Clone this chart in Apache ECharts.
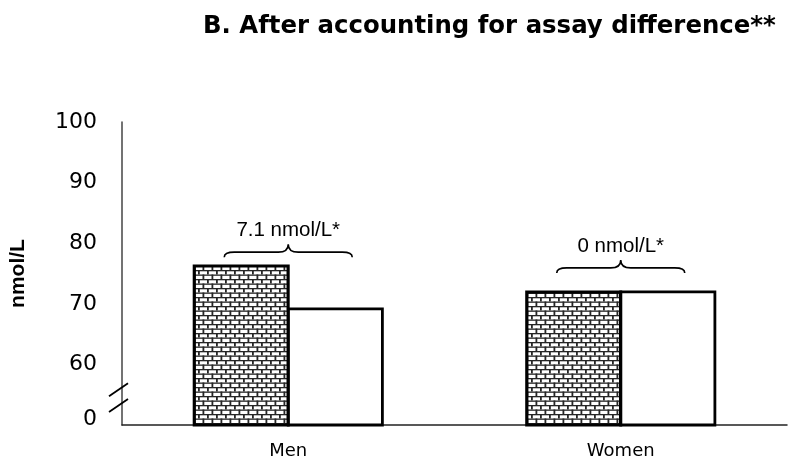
<!DOCTYPE html>
<html>
<head>
<meta charset="utf-8">
<script src="https://cdn.jsdelivr.net/npm/echarts@6/dist/echarts.min.js"></script>
<style>html,body{margin:0;padding:0;background:#fff;}#c{width:800px;height:466px;}</style>
</head>
<body>
<div id="c"></div>
<script>
// ---- data ----
var categories = ['Men', 'Women'];
var seriesBefore = [76.5, 72.2];   // patterned (brick) bars
var seriesAfter = [69.4, 72.2];    // white bars
var yTicks = [50, 60, 70, 80, 90, 100];
var yTickLabels = ['0', '60', '70', '80', '90', '100'];
var diffLabels = ['7.1 nmol/L*', '0 nmol/L*'];
var braceLevels = [77.7, 75.1];
var titleText = 'B. After accounting for assay difference**';
var yName = 'nmol/L';

// ---- brick pattern ----
var pc = document.createElement('canvas');
pc.width = 9; pc.height = 9;
var g = pc.getContext('2d');
g.fillStyle = '#ffffff'; g.fillRect(0, 0, 9, 9);
g.fillStyle = '#262626';
g.fillRect(0, 0, 9, 1.3);
g.fillRect(0, 4.5, 9, 1.3);
g.fillRect(0, 0, 1.8, 4.5);
g.fillRect(4.5, 4.5, 1.8, 4.5);

var FONT = '"DejaVu Sans", "Liberation Sans", Arial, sans-serif';
var ARIAL = '"Liberation Sans", Arial, sans-serif';
var chart = echarts.init(document.getElementById('c'), null, {renderer: 'canvas'});

var option = {
  animation: false,
  backgroundColor: '#ffffff',
  title: {
    text: titleText,
    left: 198, top: 10,
    textStyle: {fontFamily: FONT, fontSize: 24.4, fontWeight: 'bold', color: '#000'}
  },
  grid: {left: 119, right: 13, top: 122, bottom: 41},
  xAxis: {
    type: 'category',
    data: categories,
    axisLine: {show: true, lineStyle: {color: '#222', width: 1.5}},
    axisTick: {show: false},
    axisLabel: {margin: 17, fontFamily: FONT, fontSize: 18, color: '#000'}
  },
  yAxis: {
    type: 'value',
    min: 50, max: 100, interval: 10,
    name: yName,
    nameLocation: 'middle',
    nameRotate: 90,
    nameGap: 93,
    nameTextStyle: {fontFamily: ARIAL, fontSize: 21, fontWeight: 'bold', color: '#000'},
    axisLine: {show: true, lineStyle: {color: '#444', width: 1.5}},
    axisTick: {show: false},
    splitLine: {show: false},
    axisLabel: {
      margin: 25,
      fontFamily: FONT, fontSize: 22, color: '#000',
      formatter: function (v) {
        var i = yTicks.indexOf(v);
        var t = i >= 0 ? yTickLabels[i] : '';
        return i === 0 ? '{z|' + t + '}' : t;
      },
      rich: {z: {fontFamily: FONT, fontSize: 22, color: '#000', padding: [0, 0, 12, 0]}}
    }
  },
  series: [
    {
      type: 'bar',
      data: seriesBefore,
      barWidth: 97,
      barGap: '-3%',
      itemStyle: {color: {image: pc, repeat: 'repeat'}, borderColor: '#000', borderWidth: 3.2}
    },
    {
      type: 'bar',
      data: seriesAfter,
      barWidth: 97,
      barGap: '-3%',
      z: 1,
      itemStyle: {color: '#ffffff', borderColor: '#000', borderWidth: 2.8}
    },
    {
      type: 'custom',
      data: braceLevels.map(function (v, i) { return [i, v]; }),
      z: 5,
      renderItem: function (params, api) {
        var c = api.coord([api.value(0), api.value(1)]);
        var xc = c[0], yb = c[1];
        var hw = 64, ym = yb - 5, yt = yb - 13, r = 10;
        var d = 'M' + (xc - hw) + ',' + yb +
          ' Q' + (xc - hw) + ',' + ym + ' ' + (xc - hw + r) + ',' + ym +
          ' L' + (xc - r) + ',' + ym +
          ' Q' + xc + ',' + ym + ' ' + xc + ',' + yt +
          ' Q' + xc + ',' + ym + ' ' + (xc + r) + ',' + ym +
          ' L' + (xc + hw - r) + ',' + ym +
          ' Q' + (xc + hw) + ',' + ym + ' ' + (xc + hw) + ',' + yb;
        return {
          type: 'group',
          children: [
            {type: 'path', shape: {pathData: d}, style: {fill: null, stroke: '#000', lineWidth: 1.6}},
            {type: 'text', style: {text: diffLabels[params.dataIndex], x: xc, y: yt - 14,
              align: 'center', verticalAlign: 'middle', fontFamily: ARIAL, fontSize: 20.5, fill: '#000'}}
          ]
        };
      }
    }
  ]
};
chart.setOption(option);

// axis break marks
var yb1 = chart.convertToPixel({yAxisIndex: 0}, 55.9);
var yb2 = chart.convertToPixel({yAxisIndex: 0}, 53.3);
var ax = 119;
function slash(yc) {
  return {type: 'line', shape: {x1: ax - 10, y1: yc + 7, x2: ax + 9, y2: yc - 6},
    style: {stroke: '#000', lineWidth: 1.8}, z: 10};
}
chart.setOption({graphic: [slash(yb1), slash(yb2)]});
</script>
</body>
</html>
